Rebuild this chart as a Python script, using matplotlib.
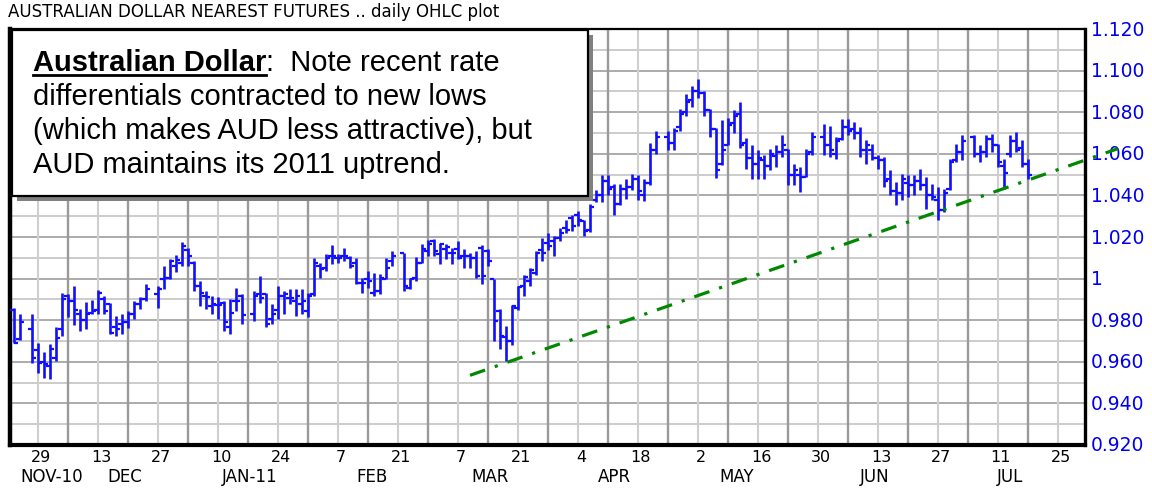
import numpy as np
import pandas as pd
import matplotlib
matplotlib.use("Agg")
import matplotlib.pyplot as plt
from matplotlib.patches import Rectangle
from matplotlib.lines import Line2D

# ---------------- data ----------------
title = "AUSTRALIAN DOLLAR NEAREST FUTURES .. daily OHLC plot"
axis_origin = "2010-11-22"          # first weekday of the chart's time axis
first_bar = "2010-11-23"
last_bar = "2011-07-18"
market_holidays = ["2010-11-25", "2010-12-24", "2011-01-17", "2011-02-21",
                   "2011-04-22", "2011-05-30", "2011-07-04"]

opens = [
    # Nov
    0.985, 0.971, 0.976, 0.9656, 0.9597,
    # Dec
    0.958, 0.962, 0.976, 0.9917, 0.989, 0.983, 0.980, 0.9837, 0.985, 0.990, 0.9877,
    0.9765, 0.978, 0.979, 0.983, 0.988, 0.990, 0.9925, 0.9997, 1.0005, 1.006, 1.0077,
    # Jan
    1.0136, 1.0077, 0.9965, 0.9917, 0.9869, 0.9874, 0.9885, 0.9765, 0.9893, 0.9917,
    0.9832, 0.9925, 0.9925, 0.9805, 0.985, 0.9917, 0.9909, 0.9893, 0.9877, 0.9845,
    # Feb
    0.9925, 1.0061, 1.0053, 1.0109, 1.0101, 1.0109, 1.0101, 1.0077, 0.9981, 0.9997,
    0.9933, 0.9941, 0.9997, 1.0085, 1.0125, 0.9957, 1.0005, 1.0077, 1.0133,
    # Mar
    1.0181, 1.0117, 1.0141, 1.0125, 1.0141, 1.0109, 1.0109, 1.0101, 1.0149, 1.0133,
    0.9997, 0.9845, 0.9717, 0.970, 0.9859, 0.9963, 0.9987, 1.0027, 1.0139, 1.0171,
    1.0179, 1.0195, 1.0243,
    # Apr
    1.0291, 1.0307, 1.0275, 1.0235, 1.038, 1.040, 1.047, 1.044, 1.036, 1.043,
    1.044, 1.048, 1.040, 1.046, 1.062, 1.068, 1.065, 1.073, 1.080, 1.086,
    # May
    1.090, 1.089, 1.081, 1.072, 1.055, 1.064, 1.075, 1.079, 1.065, 1.058,
    1.055, 1.057, 1.054, 1.059, 1.061, 1.062, 1.050, 1.050, 1.049, 1.061, 1.068,
    # Jun
    1.064, 1.060, 1.067, 1.073, 1.072, 1.070, 1.062, 1.062, 1.058, 1.057, 1.048,
    1.042, 1.041, 1.046, 1.045, 1.047, 1.045, 1.040, 1.038, 1.033, 1.043, 1.057,
    # Jul
    1.061, 1.068, 1.060, 1.061, 1.067, 1.064, 1.054, 1.060, 1.066, 1.063, 1.055,
]
highs = [
    # Nov
    0.9858, 0.9832, 0.9832, 0.9688, 0.9645,
    # Dec
    0.9685, 0.9768, 0.9933, 0.9925, 0.9965, 0.9853, 0.9888, 0.9896, 0.9944, 0.9917, 0.9885,
    0.9821, 0.9829, 0.9845, 0.9893, 0.9912, 0.9973, 0.9965, 1.0061, 1.0093, 1.0114, 1.0178,
    # Jan
    1.0146, 1.0085, 0.9989, 0.9938, 0.9917, 0.9912, 0.9893, 0.9901, 0.9954, 0.9925,
    0.9938, 1.0013, 0.9933, 0.9877, 0.9965, 0.9941, 0.9949, 0.9949, 0.9949, 0.9933,
    # Feb
    1.0101, 1.0077, 1.0117, 1.0162, 1.0117, 1.0146, 1.0109, 1.0101, 1.0005, 1.0037,
    1.0029, 1.0021, 1.0101, 1.0133, 1.0125, 1.0005, 1.0104, 1.0165, 1.0184,
    # Mar
    1.0189, 1.0173, 1.0165, 1.0149, 1.0181, 1.0141, 1.0125, 1.0133, 1.0162, 1.0141,
    0.9997, 0.9855, 0.9771, 0.9875, 0.9963, 1.0019, 1.0051, 1.0131, 1.0195, 1.0219,
    1.0203, 1.0243, 1.0283,
    # Apr
    1.0307, 1.0323, 1.0283, 1.036, 1.0424, 1.0496, 1.0496, 1.0456, 1.0456, 1.048,
    1.0504, 1.0496, 1.048, 1.0652, 1.0712, 1.0712, 1.0724, 1.0816, 1.0888, 1.0924,
    # May
    1.096, 1.0904, 1.0816, 1.0724, 1.0764, 1.0772, 1.0812, 1.0848, 1.0676, 1.0644,
    1.0616, 1.0592, 1.0624, 1.064, 1.0688, 1.0624, 1.0552, 1.0536, 1.0624, 1.0704, 1.0744,
    # Jun
    1.0736, 1.068, 1.0768, 1.0768, 1.0752, 1.0728, 1.0664, 1.0648, 1.0592, 1.0584, 1.052,
    1.0464, 1.0504, 1.0496, 1.0496, 1.0528, 1.0488, 1.0456, 1.044, 1.0432, 1.0576, 1.0648,
    # Jul
    1.0688, 1.0688, 1.064, 1.0688, 1.0696, 1.0648, 1.0576, 1.0688, 1.0704, 1.0664, 1.0576,
]
lows = [
    # Nov
    0.9688, 0.9704, 0.9592, 0.9544, 0.9522,
    # Dec
    0.9517, 0.9605, 0.9725, 0.9813, 0.9775, 0.9749, 0.9757, 0.9829, 0.9829, 0.9832, 0.9733,
    0.9725, 0.9733, 0.9762, 0.9805, 0.9853, 0.9893, 0.9861, 0.9949, 0.9997, 1.0034, 1.0061,
    # Jan
    1.0061, 0.9941, 0.9869, 0.9853, 0.9829, 0.9805, 0.9749, 0.9733, 0.9845, 0.9784,
    0.9797, 0.9885, 0.9765, 0.9781, 0.9805, 0.9829, 0.9877, 0.9821, 0.9829, 0.9813,
    # Feb
    0.9917, 1.0005, 1.0037, 1.0069, 1.0077, 1.0085, 1.0053, 0.9973, 0.9933, 0.9957,
    0.9917, 0.9925, 0.9997, 1.0061, 0.9941, 0.9949, 0.9989, 1.0077, 1.0109,
    # Mar
    1.0109, 1.0069, 1.0093, 1.0069, 1.0093, 1.0053, 1.0053, 1.0005, 0.9973, 1.0061,
    0.9701, 0.9661, 0.9603, 0.9683, 0.9851, 0.9915, 0.9963, 1.0019, 1.0083, 1.0139,
    1.0107, 1.0179, 1.0219,
    # Apr
    1.0227, 1.0251, 1.0203, 1.0222, 1.0366, 1.037, 1.040, 1.0304, 1.0352, 1.0385,
    1.0425, 1.038, 1.0372, 1.0448, 1.060, 1.0616, 1.0616, 1.0712, 1.0784, 1.0824,
    # May
    1.0868, 1.0784, 1.068, 1.0484, 1.0548, 1.064, 1.070, 1.0628, 1.0528, 1.048,
    1.048, 1.048, 1.052, 1.0536, 1.0584, 1.0448, 1.0448, 1.0416, 1.0488, 1.0592, 1.0592,
    # Jun
    1.0584, 1.0576, 1.0664, 1.0688, 1.0672, 1.0584, 1.0552, 1.0568, 1.0528, 1.044, 1.040,
    1.0352, 1.0376, 1.0392, 1.040, 1.0424, 1.0336, 1.0376, 1.028, 1.032, 1.0424, 1.056,
    # Jul
    1.0568, 1.0584, 1.056, 1.0584, 1.0608, 1.0536, 1.0432, 1.0584, 1.0608, 1.0536, 1.048,
]
closes = [
    # Nov
    0.969, 0.979, 0.962, 0.9592, 0.959,
    # Dec
    0.966, 0.9715, 0.990, 0.9893, 0.985, 0.980, 0.983, 0.9845, 0.993, 0.9845, 0.974,
    0.9757, 0.979, 0.983, 0.988, 0.990, 0.9949, 0.995, 1.0005, 1.0085, 1.0088, 1.0157,
    # Jan
    1.0109, 0.9965, 0.9933, 0.9912, 0.9877, 0.9874, 0.9789, 0.9837, 0.9893, 0.9824,
    0.9917, 0.9909, 0.9781, 0.9829, 0.9917, 0.9925, 0.9909, 0.9917, 0.9893, 0.9917,
    # Feb
    1.0077, 1.0045, 1.0101, 1.0109, 1.0101, 1.0109, 1.0061, 0.9981, 0.9981, 0.9989,
    0.9941, 1.0005, 1.0053, 1.0109, 0.9965, 0.9997, 1.0077, 1.0141, 1.0165,
    # Mar
    1.0133, 1.0165, 1.0152, 1.0125, 1.0101, 1.0109, 1.0101, 1.0013, 1.0013, 1.0085,
    0.9797, 0.9725, 0.9701, 0.9867, 0.996, 1.0008, 1.0043, 1.0123, 1.0123, 1.0155,
    1.0195, 1.0219, 1.0235,
    # Apr
    1.0251, 1.0283, 1.0227, 1.0345, 1.040, 1.047, 1.043, 1.036, 1.043, 1.044,
    1.048, 1.042, 1.046, 1.062, 1.068, 1.065, 1.071, 1.079, 1.085, 1.090,
    # May
    1.089, 1.081, 1.072, 1.052, 1.062, 1.074, 1.078, 1.064, 1.058, 1.055,
    1.058, 1.054, 1.060, 1.061, 1.064, 1.050, 1.052, 1.049, 1.060, 1.068, 1.064,
    # Jun
    1.062, 1.066, 1.073, 1.071, 1.070, 1.062, 1.064, 1.058, 1.057, 1.047, 1.042,
    1.041, 1.048, 1.045, 1.047, 1.045, 1.040, 1.039, 1.033, 1.041, 1.056, 1.061,
    # Jul
    1.066, 1.060, 1.061, 1.067, 1.064, 1.056, 1.051, 1.066, 1.062, 1.055, 1.050,
]

trend_dates = ["2011-03-09", "2011-08-08"]
trend_values = [0.9535, 1.0625]

y_ticks = [1.12, 1.10, 1.08, 1.06, 1.04, 1.02, 1.00, 0.98, 0.96, 0.94, 0.92]
y_tick_labels = ["1.120", "1.100", "1.080", "1.060", "1.040", "1.020", "1",
                 "0.980", "0.960", "0.940", "0.920"]
day_tick_dates = ["2010-11-29", "2010-12-13", "2010-12-27", "2011-01-10", "2011-01-24",
                  "2011-02-07", "2011-02-21", "2011-03-07", "2011-03-21", "2011-04-04",
                  "2011-04-18", "2011-05-02", "2011-05-16", "2011-05-30", "2011-06-13",
                  "2011-06-27", "2011-07-11", "2011-07-25"]
day_tick_labels = ["29", "13", "27", "10", "24", "7", "21", "7", "21", "4",
                   "18", "2", "16", "30", "13", "27", "11", "25"]
month_labels = ["NOV-10", "DEC", "JAN-11", "FEB", "MAR", "APR", "MAY", "JUN", "JUL"]
month_label_pos = [7.2, 19.4, 40.3, 60.7, 80.3, 101.0, 121.5, 144.5, 167.0]  # weekday offsets

note_head = "Australian Dollar"
note_lines = [":  Note recent rate",
              "differentials contracted to new lows",
              "(which makes AUD less attractive), but",
              "AUD maintains its 2011 uptrend."]

# ---------------- layout helpers ----------------
W, H = 1152, 489
fig = plt.figure(figsize=(W / 100, H / 100), dpi=100)
fig.patch.set_facecolor("white")

def fx(px):
    return px / W

def fy(py):
    return 1 - py / H

AX_L, AX_R, AX_T, AX_B = 10, 1085, 30, 446
ax = fig.add_axes([fx(AX_L), fy(AX_B), (AX_R - AX_L) / W, (AX_B - AX_T) / H])

BLUE = "#1010ff"
GREEN = "#008800"
AXFONT = "DejaVu Sans"

# ---------------- positions on weekday axis ----------------
dates = pd.bdate_range(first_bar, last_bar)
dates = dates[~dates.isin(pd.to_datetime(market_holidays))]
d64 = dates.values.astype("datetime64[D]")
x = np.busday_count(np.datetime64(axis_origin), d64).astype(float)
assert len(x) == len(opens) == len(highs) == len(lows) == len(closes)

def wk(datestrs):
    return np.busday_count(np.datetime64(axis_origin),
                           np.array(datestrs, dtype="datetime64[D]")).astype(float)

x_lo = (AX_L - 8) / 6.0
x_hi = (AX_R - 8) / 6.0
ax.set_xlim(x_lo, x_hi)
ax.set_ylim(0.92, 1.12)

# ---------------- grid ----------------
label_x = wk(day_tick_dates)
dark_x = wk(list(pd.date_range("2010-11-22", "2011-08-01", freq="14D").strftime("%Y-%m-%d")))
for gx in dark_x:
    ax.axvline(gx, color="#9a9a9a", lw=1.7, zorder=1)
for gx in label_x:
    ax.axvline(gx, color="#cfcfcf", lw=1.5, zorder=0.9)
for k, gy in enumerate(np.arange(0.92, 1.1201, 0.01)):
    ax.axhline(gy, color="#ababab" if k % 2 == 0 else "#c4c4c4",
               lw=1.4 if k % 2 == 0 else 1.2, zorder=0.8)

# ---------------- OHLC bars ----------------
ax.vlines(x, lows, highs, color=BLUE, lw=1.9, zorder=3)
ax.hlines(opens, x - 0.65, x, color=BLUE, lw=1.6, zorder=3)
ax.hlines(closes, x, x + 0.65, color=BLUE, lw=1.6, zorder=3)

# ---------------- trend line ----------------
ax.plot(wk(trend_dates), trend_values, color=GREEN, lw=2.3,
        linestyle=(0, (5, 3.2, 1, 3.2)), clip_on=False, zorder=4)

# ---------------- axes frame ----------------
ax.set_xticks([])
ax.set_yticks([])
for side, lw in (("left", 3.2), ("bottom", 3.0), ("right", 2.4), ("top", 1.6)):
    ax.spines[side].set_color("black")
    ax.spines[side].set_linewidth(lw)

# y labels on the right (blue)
ytr = ax.get_yaxis_transform()
for v, lab in zip(y_ticks, y_tick_labels):
    ax.text(1 + (1091 - AX_R) / (AX_R - AX_L), v, lab, transform=ytr, ha="left",
            va="center", color="#0000ee", fontsize=13.5, family=AXFONT, clip_on=False)

# x labels
xtr = ax.get_xaxis_transform()
for gx, lab in zip(label_x, day_tick_labels):
    ax.text(gx + 0.5, -(457.5 - AX_B) / (AX_B - AX_T), lab, transform=xtr, ha="center",
            va="center", fontsize=11.5, family=AXFONT, color="black", clip_on=False)
for px_, lab in zip(month_label_pos, month_labels):
    ax.text(px_, -(477.5 - AX_B) / (AX_B - AX_T), lab, transform=xtr, ha="center",
            va="center", fontsize=12, family=AXFONT, color="black", clip_on=False)

# title
fig.text(fx(8), fy(12), title, ha="left", va="center", fontsize=12, family=AXFONT,
         color="black")

# ---------------- annotation box ----------------
bx0, by0, bx1, by1 = 12, 31, 588, 197
sh = 5
fig.add_artist(Rectangle((fx(bx0 + sh), fy(by1 + sh)), (bx1 - bx0) / W, (by1 - by0) / H,
                         transform=fig.transFigure, facecolor="#808080",
                         edgecolor="none", zorder=5))
fig.add_artist(Rectangle((fx(bx0), fy(by1)), (bx1 - bx0) / W, (by1 - by0) / H,
                         transform=fig.transFigure, facecolor="white",
                         edgecolor="black", lw=1.6, zorder=6))

NFONT = "Liberation Sans"
NSIZE = 21
tx = 33
base = [71, 105, 139, 173]
t_head = fig.text(fx(tx), fy(base[0]), note_head, ha="left", va="baseline",
                  fontsize=NSIZE, fontweight="bold", family=NFONT, zorder=7)
fig.canvas.draw()
rend = fig.canvas.get_renderer()
bb = t_head.get_window_extent(rend)
fig.text(bb.x1 / W, fy(base[0]), note_lines[0], ha="left", va="baseline",
         fontsize=NSIZE, family=NFONT, zorder=7)
fig.add_artist(Line2D([bb.x0 / W, bb.x1 / W], [fy(base[0] + 5), fy(base[0] + 5)],
                      transform=fig.transFigure, color="black", lw=2.0, zorder=7))
for yb, line in zip(base[1:], note_lines[1:]):
    fig.text(fx(tx), fy(yb), line, ha="left", va="baseline", fontsize=NSIZE,
             family=NFONT, zorder=7)

fig.savefig("out.png", dpi=100, facecolor="white")
